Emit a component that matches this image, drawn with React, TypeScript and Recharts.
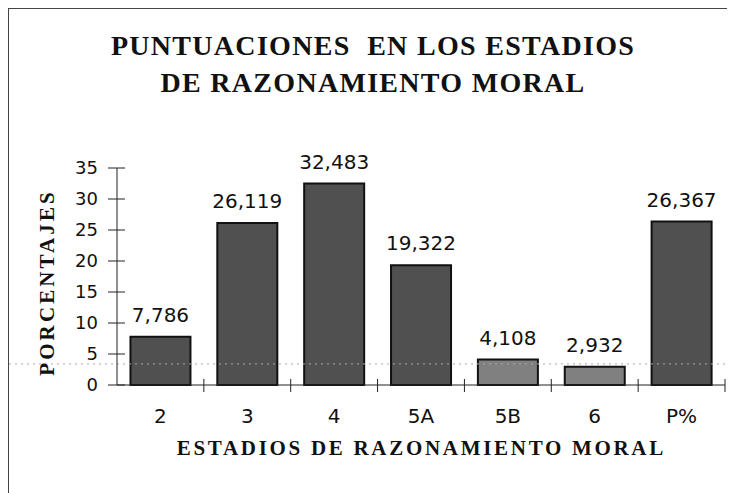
import { BarChart, Bar, XAxis, YAxis, Cell, LabelList, ReferenceLine } from 'recharts';

const stages = ['2', '3', '4', '5A', '5B', '6', 'P%'];
const percentages = [7.786, 26.119, 32.483, 19.322, 4.108, 2.932, 26.367];
const barShades = ['#505050', '#505050', '#505050', '#505050', '#808080', '#808080', '#505050'];
const yTicks = [0, 5, 10, 15, 20, 25, 30, 35];
const scanLine = 3.4;

const W = 727;
const H = 485;
const margin = { top: 159, right: 11, left: 48, bottom: 69 };
const Y_W = 60;
const TICK = 8;
const Y_TICK_MARGIN = 11;
const X_TICK_MARGIN = 16;
const BAND = (W - margin.left - margin.right - Y_W) / stages.length;

const serif = '"Liberation Serif", "DejaVu Serif", serif';
const sans = '"DejaVu Sans", sans-serif';

const data = stages.map((stage, i) => ({
  stage,
  value: percentages[i],
  label: percentages[i].toFixed(3).replace('.', ','),
}));

function StageTick(props: any) {
  const { x, y, payload } = props;
  const axisY = y - TICK - X_TICK_MARGIN;
  const bx = x + BAND / 2;
  return (
    <g>
      <line x1={bx} y1={axisY - 6} x2={bx} y2={axisY + 7} stroke="#222" />
      <text x={x} y={y} dy="0.71em" textAnchor="middle" fontSize={20} fill="#111" fontFamily={sans}>
        {payload.value}
      </text>
    </g>
  );
}

function PctTick(props: any) {
  const { x, y, payload } = props;
  const ax = x + TICK + Y_TICK_MARGIN;
  return (
    <g>
      <line x1={ax - 9} y1={y} x2={ax + 8} y2={y} stroke="#222" />
      <text x={x} y={y} dy="0.355em" textAnchor="end" fontSize={18} fill="#111" fontFamily={sans}>
        {payload.value}
      </text>
    </g>
  );
}

export default function App() {
  return (
    <div
      style={{
        position: 'relative',
        width: W,
        height: H,
        borderTop: '1px solid #444',
        borderLeft: '1px solid #444',
        background: '#fff',
      }}
    >
      <div
        style={{
          position: 'absolute',
          left: 0,
          top: 18,
          width: 728,
          textAlign: 'center',
          fontFamily: serif,
          fontWeight: 'bold',
          fontSize: 28,
          lineHeight: '37px',
          letterSpacing: 1.3,
          color: '#111',
          whiteSpace: 'pre',
        }}
      >
        {'PUNTUACIONES  EN LOS ESTADIOS\nDE RAZONAMIENTO MORAL'}
      </div>

      <BarChart width={W} height={H} data={data} margin={margin} barCategoryGap="15.5%">
        <XAxis
          dataKey="stage"
          height={40}
          tickSize={TICK}
          tickMargin={X_TICK_MARGIN}
          tickLine={false}
          tick={<StageTick />}
          axisLine={{ stroke: '#222' }}
          interval={0}
        />
        <YAxis
          width={Y_W}
          domain={[0, 35]}
          ticks={yTicks}
          interval={0}
          tickSize={TICK}
          tickMargin={Y_TICK_MARGIN}
          tickLine={false}
          tick={<PctTick />}
          axisLine={{ stroke: '#222' }}
        />
        <ReferenceLine
          y={scanLine}
          stroke="#aaa"
          strokeDasharray="2 4"
          shape={(p: any) => (
            <line x1={0} y1={p.y1} x2={p.x2 + margin.right} y2={p.y2} stroke="#aaa" strokeDasharray="2 4" />
          )}
        />
        <Bar dataKey="value" stroke="#111" strokeWidth={2} isAnimationActive={false}>
          {data.map((d, i) => (
            <Cell key={d.stage} fill={barShades[i]} />
          ))}
          <LabelList dataKey="label" position="top" offset={15} fontSize={20} fill="#111" fontFamily={sans} />
        </Bar>
      </BarChart>

      <div
        style={{
          position: 'absolute',
          left: 411,
          top: 427,
          transform: 'translateX(-50%)',
          fontFamily: serif,
          fontWeight: 'bold',
          fontSize: 21,
          lineHeight: '24px',
          letterSpacing: 2.7,
          paddingLeft: 2.7,
          color: '#111',
          whiteSpace: 'nowrap',
        }}
      >
        ESTADIOS DE RAZONAMIENTO MORAL
      </div>

      <div
        style={{
          position: 'absolute',
          left: 38,
          top: 275,
          transform: 'translate(-50%, -50%) rotate(-90deg)',
          fontFamily: serif,
          fontWeight: 'bold',
          fontSize: 21,
          lineHeight: '24px',
          letterSpacing: 3.1,
          paddingLeft: 3.1,
          color: '#111',
          whiteSpace: 'nowrap',
        }}
      >
        PORCENTAJES
      </div>
    </div>
  );
}
